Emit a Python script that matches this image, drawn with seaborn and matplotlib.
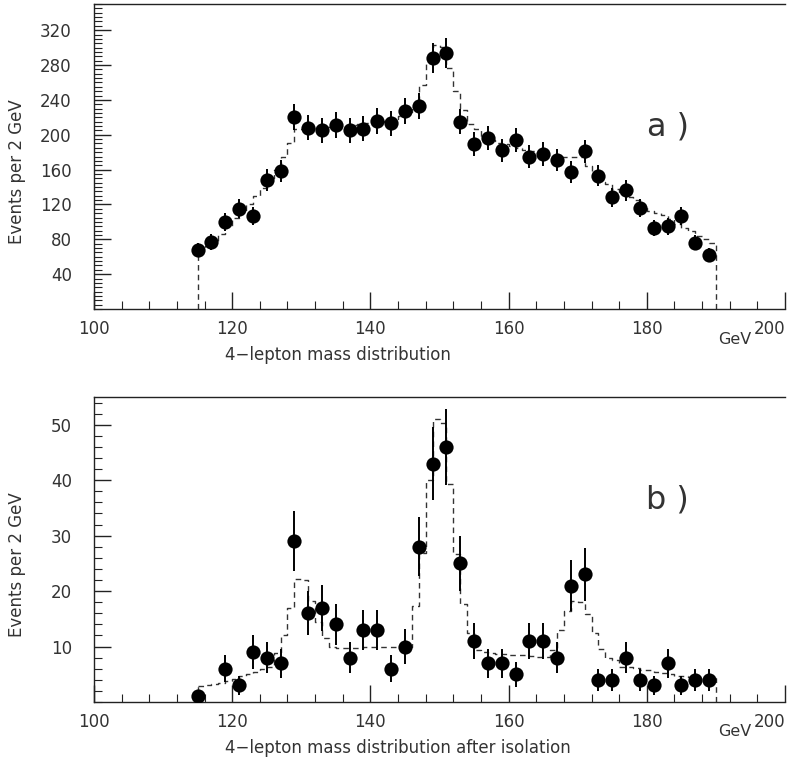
import numpy as np
import matplotlib
matplotlib.use('Agg')
import matplotlib.pyplot as plt
from matplotlib.ticker import MultipleLocator, FixedLocator
import seaborn as sns

# measured points, one per 2 GeV bin (bin centres in GeV)
mass = [115, 117, 119, 121, 123, 125, 127, 129, 131, 133, 135, 137, 139, 141, 143, 145, 147, 149, 151,
        153, 155, 157, 159, 161, 163, 165, 167, 169, 171, 173, 175, 177, 179, 181, 183, 185, 187, 189]
events_a = [68, 77, 100, 115, 107, 148, 158, 220, 208, 205, 211, 205, 207, 216, 213, 227, 233, 288, 294,
            215, 189, 196, 182, 194, 175, 178, 171, 157, 181, 153, 128, 136, 116, 93, 95, 107, 76, 62]
events_b = [1, 0, 6, 3, 9, 8, 7, 29, 16, 17, 14, 8, 13, 13, 6, 10, 28, 43, 46,
            25, 11, 7, 7, 5, 11, 11, 8, 21, 23, 4, 4, 8, 4, 3, 7, 3, 4, 4]

# expected shape (dashed), 1 GeV bins given by their left edge
hist_lo = [115, 116, 117, 118, 119, 120, 121, 122, 123, 124, 125, 126, 127, 128, 129, 130, 131, 132, 133,
           134, 135, 136, 137, 138, 139, 140, 141, 142, 143, 144, 145, 146, 147, 148, 149, 150, 151, 152,
           153, 154, 155, 156, 157, 158, 159, 160, 161, 162, 163, 164, 165, 166, 167, 168, 169, 170, 171,
           172, 173, 174, 175, 176, 177, 178, 179, 180, 181, 182, 183, 184, 185, 186, 187, 188, 189]
expect_a = [68, 72, 78, 86, 95, 105, 112, 120, 130, 139, 150, 160, 175, 191, 207, 207, 208, 208, 209,
            209, 210, 210, 211, 212, 213, 214, 215, 216, 218, 221, 226, 233, 257, 282, 303, 301, 276, 250,
            228, 212, 206, 198, 194, 191, 189, 187, 185, 183, 181, 179, 177, 176, 175, 175, 175, 175, 164,
            155, 146, 143, 138, 132, 128, 125, 119, 113, 110, 108, 103, 97, 93, 89, 84, 80, 76]
expect_b = [2.8, 3.0, 3.2, 3.5, 3.8, 4.2, 4.6, 5.0, 5.5, 6.0, 6.4, 8.8, 12.1, 17.0, 22.1, 22.0, 18.3, 14.5, 11.6,
            10.0, 9.8, 9.7, 9.7, 9.8, 9.9, 10.0, 10.0, 10.0, 10.0, 10.0, 10.0, 17.3, 26.9, 40.1, 51.0, 50.4, 39.4, 26.6,
            17.7, 12.5, 9.4, 9.0, 8.8, 8.7, 8.6, 8.5, 8.4, 8.4, 8.3, 8.2, 8.2, 9.4, 12.9, 16.4, 18.3, 18.0, 15.8,
            12.5, 9.6, 7.9, 7.6, 6.4, 6.4, 6.2, 5.8, 5.8, 5.5, 5.2, 5.0, 4.6, 4.6, 4.5, 4.4, 4.3, 4.3]
hist_hi = 190

sns.set_style('ticks')
plt.rcParams['font.family'] = ['DejaVu Sans']

W, H = 803, 766
fig = plt.figure(figsize=(W / 100, H / 100), dpi=100)
ax1 = fig.add_axes([94 / W, 1 - 309 / H, 691 / W, 305 / H])
ax2 = fig.add_axes([94 / W, 1 - 702 / H, 691 / W, 305 / H])

txt = '#333333'


def panel(ax, counts, expect, ylim, yticks, yminor, tag, tag_y, xlabel):
    edges = hist_lo + [hist_hi]
    centres = np.array(hist_lo) + 0.5
    sns.histplot(x=centres, weights=expect, bins=edges, element='step', fill=False,
                 color='#333333', linestyle=(0, (4, 3)), linewidth=1.0, ax=ax)
    # drop lines at both ends of the expectation
    ax.vlines([edges[0], edges[-1]], 0, [expect[0], expect[-1]], colors='#333333',
              linestyles=[(0, (4, 3))], linewidth=1.0)

    x = np.array(mass)
    y = np.array(counts, dtype=float)
    keep = y > 0
    ax.errorbar(x[keep], y[keep], yerr=np.sqrt(y[keep]), fmt='none', ecolor='black',
                elinewidth=1.4, capsize=0, zorder=3)
    sns.scatterplot(x=x[keep], y=y[keep], color='black', s=105, edgecolor='black',
                    linewidth=0, zorder=4, ax=ax)

    ax.set_xlim(100, 200)
    ax.set_ylim(*ylim)
    ax.xaxis.set_major_locator(FixedLocator([100, 120, 140, 160, 180, 200]))
    ax.xaxis.set_minor_locator(MultipleLocator(4))
    ax.yaxis.set_major_locator(FixedLocator(yticks))
    ax.yaxis.set_minor_locator(MultipleLocator(yminor))
    ax.tick_params(which='major', direction='in', length=12, width=1, labelsize=12,
                   colors='#222222', labelcolor=txt, pad=8)
    ax.tick_params(which='minor', direction='in', length=6, width=0.8, colors='#222222')
    ax.tick_params(axis='y', which='major', pad=16)
    ax.spines['right'].set_visible(False)
    for s in ['top', 'left', 'bottom']:
        ax.spines[s].set_linewidth(1.0)
        ax.spines[s].set_color('#222222')
    # last x label sits inside the figure, right-aligned on its tick
    ax.get_xticklabels()[-1].set_ha('right')

    ax.set_ylabel('Events per 2 GeV', fontsize=12, color=txt)
    ax.yaxis.set_label_coords(-0.098, 0.45)
    ax.set_xlabel(xlabel, fontsize=12, color=txt, ha='left', va='center')
    ax.xaxis.set_label_coords((225 - 94) / 691, -46 / 305)
    ax.text((718 - 94) / 691, -30 / 305, 'GeV', transform=ax.transAxes, fontsize=11.5,
            color=txt, ha='left', va='center')
    ax.text(183, tag_y, tag, fontsize=23, color=txt, ha='center', va='center')


panel(ax1, events_a, expect_a, (0, 350), [40, 80, 120, 160, 200, 240, 280, 320], 5,
      'a )', 209, '4\u2212lepton mass distribution')
panel(ax2, events_b, expect_b, (0, 55), [10, 20, 30, 40, 50], 2,
      'b )', 36.5, '4\u2212lepton mass distribution after isolation')

fig.savefig('out.png', dpi=100)
